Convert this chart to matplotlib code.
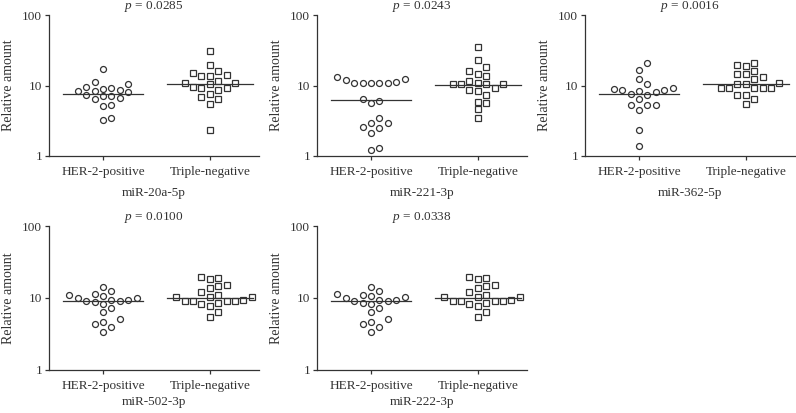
import numpy as np
import matplotlib
matplotlib.use("Agg")
import matplotlib.pyplot as plt

plt.rcParams['font.family'] = ['Liberation Serif', 'DejaVu Serif']
plt.rcParams['mathtext.fontset'] = 'custom'
plt.rcParams['mathtext.rm'] = 'Liberation Serif'
plt.rcParams['mathtext.it'] = 'Liberation Serif:italic'

groups = ['HER-2-positive', 'Triple-negative']
mirnas = ['miR-20a-5p', 'miR-221-3p', 'miR-362-5p', 'miR-502-3p', 'miR-222-3p']
p_values = ['0.0285', '0.0243', '0.0016', '0.0100', '0.0338']

her_20a = [17.2, 11.2, 10.4, 9.6, 9.3, 9.0, 8.5, 8.4, 8.3, 8.1, 7.3, 7.1, 7.0,
           6.6, 6.4, 5.3, 5.15, 3.5, 3.2]
tn_20a = [30.5, 19.8, 16.3, 14.8, 13.9, 13.6, 13.6, 11.6, 11.0, 11.0, 10.4, 9.6,
          9.3, 9.3, 8.6, 7.5, 6.9, 6.4, 5.4, 2.3]
her_221 = [13.1, 12.5, 11.8, 11.2, 10.9, 10.9, 10.9, 10.7, 10.9, 6.4, 6.05, 5.7,
           3.5, 2.9, 2.9, 2.6, 2.5, 2.1, 1.3, 1.2]
tn_221 = [35, 22.8, 18.4, 16.3, 14.4, 13.6, 11.6, 10.4, 10.4, 10.4, 10.4, 10.7,
          9.3, 8.6, 8.3, 7.3, 5.9, 5.6, 4.6, 3.5]
her_362 = [20.9, 16.5, 12.5, 10.4, 9.3, 9.0, 8.55, 8.55, 8.4, 8.0, 7.5, 7.35,
           6.5, 5.3, 5.3, 5.3, 4.5, 2.3, 1.4]
tn_362 = [20.9, 19.8, 18.8, 16.3, 14.4, 14.4, 13.3, 12.2, 10.7, 10.4, 10.4, 9.3,
          9.3, 9.3, 9.3, 9.3, 7.35, 7.35, 6.4, 5.4]
her_502 = [14.0, 12.6, 11.2, 11.0, 10.8, 10.1, 9.9, 9.4, 9.4, 9.2, 9.2, 8.7,
           8.2, 7.3, 6.4, 5.05, 4.7, 4.3, 4.0, 3.4]
tn_502 = [19.8, 19.2, 18.1, 15.1, 14.8, 13.6, 12.2, 11.0, 10.4, 10.2, 10.2, 9.4,
          9.2, 9.2, 9.2, 9.2, 8.5, 8.2, 7.8, 6.45, 5.5]
her_222 = [14.0, 12.6, 11.2, 11.0, 10.8, 10.2, 9.9, 9.4, 9.4, 9.2, 9.2, 8.6,
           8.2, 7.3, 6.4, 5.05, 4.7, 4.3, 4.0, 3.4]
tn_222 = [19.8, 19.2, 18.1, 15.1, 14.8, 13.6, 12.2, 11.0, 10.4, 10.2, 10.2, 9.4,
          9.2, 9.2, 9.2, 9.2, 8.5, 8.2, 7.8, 6.45, 5.5]

median_her = [7.7, 6.25, 7.7, 9.2, 9.2]
median_tn = [10.4, 10.3, 10.4, 10.1, 10.1]

her_data = [her_20a, her_221, her_362, her_502, her_222]
tn_data = [tn_20a, tn_221, tn_362, tn_502, tn_222]

ink = '#333333'
W, H = 796, 413
fig = plt.figure(figsize=(W / 100, H / 100), dpi=100)

# axes boxes in pixels: left, top, width, height
boxes = [(49, 15, 210, 141), (317, 15, 210, 141), (585, 15, 210, 141),
         (49, 226, 210, 144), (317, 226, 210, 144)]
xlabel_gap = [37, 37, 37, 32, 32]


def swarm(ax, xc, values, marker):
    # simple beeswarm: place each point in the nearest free column
    step = 8.4
    size = 7.6
    placed = []
    px_unit = ax.transData.transform([(1, 1)])[0][0] - ax.transData.transform([(0, 1)])[0][0]
    xs, ys = [], []
    order = [0]
    for i in range(1, 12):
        order += [i, -i]
    for v in sorted(values):
        yp = ax.transData.transform([(0, v)])[0][1]
        for k in order:
            ok = all(not (pk == k and abs(py - yp) < size) for pk, py in placed)
            if ok:
                break
        placed.append((k, yp))
        xs.append(xc + k * step / px_unit)
        ys.append(v)
    ax.plot(xs, ys, linestyle='none', marker=marker, markersize=4.3,
            markerfacecolor='white', markeredgecolor=ink, markeredgewidth=0.9)


for i, (l, t, w, h) in enumerate(boxes):
    ax = fig.add_axes([l / W, 1 - (t + h) / H, w / W, h / H])
    ax.set_yscale('log')
    ax.set_ylim(1, 100)
    ax.set_xlim(-0.505, 1.46)
    ax.set_yticks([1, 10, 100])
    ax.set_yticklabels(['1', '10', '100'])
    ax.yaxis.set_minor_locator(matplotlib.ticker.NullLocator())
    ax.set_xticks([0, 1])
    ax.set_xticklabels(groups)
    for s in ['top', 'right']:
        ax.spines[s].set_visible(False)
    for s in ['left', 'bottom']:
        ax.spines[s].set_color(ink)
        ax.spines[s].set_linewidth(0.9)
    ax.tick_params(colors=ink, labelcolor=ink, labelsize=9.5, length=3,
                   width=0.9, pad=2)
    ax.tick_params(axis='x', pad=4)

    swarm(ax, 0, her_data[i], 'o')
    swarm(ax, 1, tn_data[i], 's')
    ax.plot([-0.37, 0.37], [median_her[i]] * 2, color=ink, lw=0.9)
    ax.plot([0.6, 1.4], [median_tn[i]] * 2, color=ink, lw=0.9)

    ax.set_ylabel('Relative amount', fontsize=10, color=ink, va='center')
    ax.yaxis.set_label_coords(-0.195, 0.5)
    ax.set_xlabel(mirnas[i], fontsize=9.5, color=ink)
    ax.xaxis.set_label_coords(0.5, -xlabel_gap[i] / h)
    ax.xaxis.label.set_verticalalignment('center')
    ax.text(0.5, 1 + 9 / h, r'$\it{p}$ = ' + p_values[i], transform=ax.transAxes,
            ha='center', va='center', fontsize=9.5, color=ink)

fig.savefig('out.png', dpi=100)
